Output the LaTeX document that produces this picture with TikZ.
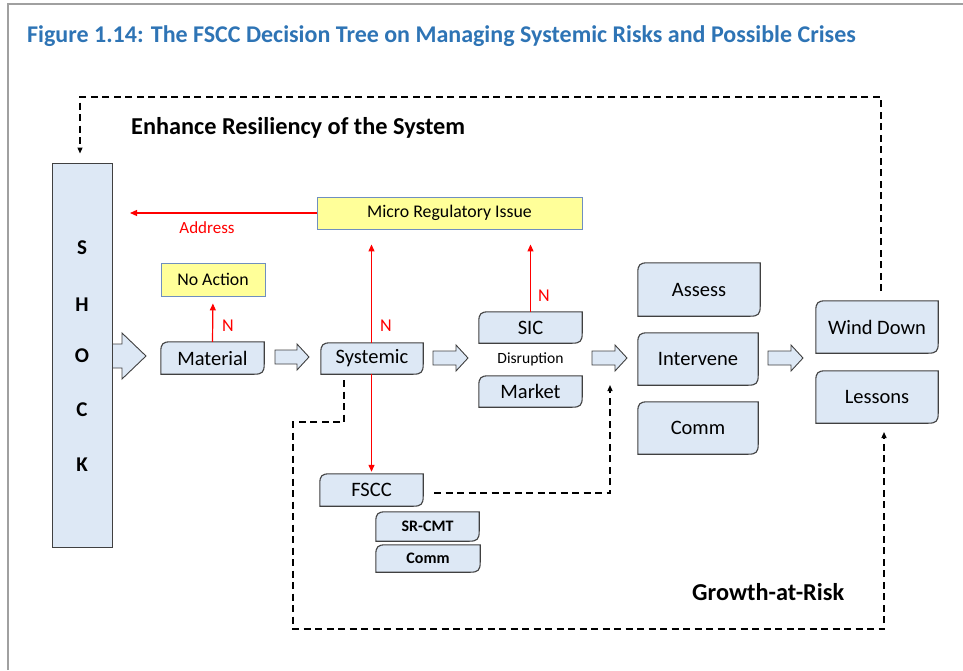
\documentclass[tikz,border=0pt]{standalone}
\usepackage{fontspec}
\setmainfont{Carlito}
\usetikzlibrary{arrows.meta}
\definecolor{boxblue}{HTML}{DDE8F5}
\definecolor{ylw}{HTML}{FFFF99}
\definecolor{ylwline}{HTML}{6F8FC0}
\definecolor{ttl}{HTML}{2E74B5}
\definecolor{edge}{HTML}{404040}
\definecolor{frame}{HTML}{A0A0A0}
\pgfdeclarelayer{bg}
\pgfsetlayers{bg,main}
\tikzset{
  bx/.style={inner sep=0pt, font=\fontsize{20.5}{23}\selectfont},
  sbx/.style={inner sep=0pt, font=\fontsize{16}{18}\selectfont\bfseries},
  ybx/.style={inner sep=0pt, draw=ylwline, line width=0.9pt, fill=ylw, font=\fontsize{17.8}{20}\selectfont},
  dboxline/.style={draw=edge, line width=1.1pt, fill=boxblue},
  blk/.style={draw=edge, line width=0.9pt, fill=boxblue},
  redarr/.style={red, line width=1.2pt, -{Triangle[length=7pt,width=6pt]}},
  redlbl/.style={red, font=\fontsize{18}{20}\selectfont},
  dsh/.style={black, line width=1.3pt, dash pattern=on 7pt off 4.5pt},
  dtip/.style={-{Triangle[length=6pt,width=5pt]}},
  bigt/.style={font=\fontsize{24.3}{28}\selectfont\bfseries},
}
\newcommand\dbox[1]{\begin{pgfonlayer}{bg}\filldraw[dboxline] (#1.south west) -- ([yshift=-10pt]#1.north west) .. controls ([yshift=-2pt]#1.north west) and ([xshift=2pt]#1.north west) .. ([xshift=10pt]#1.north west) -- (#1.north east) -- ([yshift=10pt]#1.south east) .. controls ([yshift=2pt]#1.south east) and ([xshift=-2pt]#1.south east) .. ([xshift=-10pt]#1.south east) -- cycle;\end{pgfonlayer}}
\newcommand\barrow[6]{\filldraw[blk] (#1,#2-#4) -- (#1+#3-#6,#2-#4) -- (#1+#3-#6,#2-#5) -- (#1+#3,#2) -- (#1+#3-#6,#2+#5) -- (#1+#3-#6,#2+#4) -- (#1,#2+#4) -- cycle;}
\begin{document}
\begin{tikzpicture}[x=1pt,y=-1pt]
\useasboundingbox (0,0) rectangle (963,670);
% frame
\draw[frame, line width=2pt] (8,670) -- (8,4) -- (963,4);
% title
\node[anchor=base west, inner sep=0pt, text=ttl, font=\fontsize{24}{28}\selectfont\bfseries] (title) at (27,42) {Figure 1.14: The FSCC Decision Tree on Managing Systemic Risks and Possible Crises};
\node[anchor=base west, inner sep=0pt, bigt] (enh) at (131,134) {Enhance Resiliency of the System};
\node[anchor=base west, inner sep=0pt, bigt] (gar) at (692,600) {Growth-at-Risk};

% SHOCK
\barrow{112}{356}{34}{12}{23}{24}
\node[draw=edge, line width=1pt, fill=boxblue, minimum width=60pt, minimum height=384pt, inner sep=0pt] (shock) at (82,355) {};
\foreach \l/\yy in {S/248,H/305,O/356,C/410,K/465}
  \node[font=\fontsize{21}{23}\selectfont\bfseries, inner sep=0pt] (shock\l) at (82,\yy) {\l};

% boxes
\node[bx, minimum width=103pt, minimum height=32pt] (material) at (212.5,358) {Material}; \dbox{material}
\node[ybx, minimum width=104pt, minimum height=33pt] (noaction) at (213,279.5) {No Action};
\node[ybx, minimum width=265pt, minimum height=32pt] (micro) at (449.5,213) {Micro Regulatory Issue};
\node[bx, minimum width=102pt, minimum height=31pt] (systemic) at (372,358.5) {Systemic}; \dbox{systemic}
\node[bx, minimum width=103pt, minimum height=31pt] (sic) at (530.5,327.5) {SIC}; \dbox{sic}
\node[bx, minimum width=103pt, minimum height=31pt] (market) at (530.5,391.5) {Market}; \dbox{market}
\node[inner sep=0pt, font=\fontsize{15.6}{17}\selectfont] (disr) at (530.5,359.5) {Disruption};
\node[bx, minimum width=122pt, minimum height=53pt] (assess) at (699,289.5) {Assess}; \dbox{assess}
\node[bx, minimum width=120pt, minimum height=52pt] (intervene) at (698,359) {Intervene}; \dbox{intervene}
\node[bx, minimum width=120pt, minimum height=52pt] (comm) at (698,428) {Comm}; \dbox{comm}
\node[bx, minimum width=122pt, minimum height=52pt] (wind) at (877,327) {Wind Down}; \dbox{wind}
\node[bx, minimum width=122pt, minimum height=52pt] (lessons) at (877,397) {Lessons}; \dbox{lessons}
\node[bx, minimum width=103pt, minimum height=32pt] (fscc) at (371.5,490) {FSCC}; \dbox{fscc}
\node[sbx, minimum width=103pt, minimum height=29pt] (srcmt) at (427.5,526.5) {SR-CMT}; \dbox{srcmt}
\node[sbx, minimum width=104pt, minimum height=27pt] (comm2) at (428,558.5) {Comm}; \dbox{comm2}

% block arrows
\barrow{275}{357}{34}{7}{13}{12}
\barrow{433}{358}{35}{7}{13}{12}
\barrow{592}{358}{35}{7}{13}{12}
\barrow{768}{358}{35}{7}{13}{12}

% red connectors
\coordinate (addrend) at (130,213);
\draw[redarr, shorten >=7pt] (material.north) -- (noaction.south);
\draw[redarr] (micro.west) -- (addrend);
\draw[redarr, shorten >=15pt] (systemic.north -| fscc.north) -- (fscc.north |- micro.south);
\draw[redarr, shorten >=2pt] (systemic.south -| fscc.north) -- (fscc.north);
\draw[redarr, shorten >=15pt] (sic.north) -- (sic.north |- micro.south);
\node[redlbl, font=\fontsize{17}{19}\selectfont, inner sep=0pt] (addr) at (207,228) {Address};
\node[redlbl, inner sep=0pt] (n1) at (228,326) {N};
\node[redlbl, inner sep=0pt] (n2) at (386,326) {N};
\node[redlbl, inner sep=0pt] (n3) at (544,296) {N};

% dashed connectors
\coordinate (topR) at (881,291);
\coordinate (topL) at (80,97);
\draw[dsh, dtip, shorten >=9pt] (topR) |- (topL) -- (topL |- shock.north);
\coordinate (loopA) at (344,380);
\draw[dsh, dtip, shorten >=9pt] (loopA) -- (344,422) -- (293,422) -- (293,629) -- (884,629) -- (884,423) coordinate (lesb);
\coordinate (fsccd) at (434,493);
\draw[dsh, dtip] (fsccd) -- (610,493) -- (610,385);
\end{tikzpicture}
\end{document}
